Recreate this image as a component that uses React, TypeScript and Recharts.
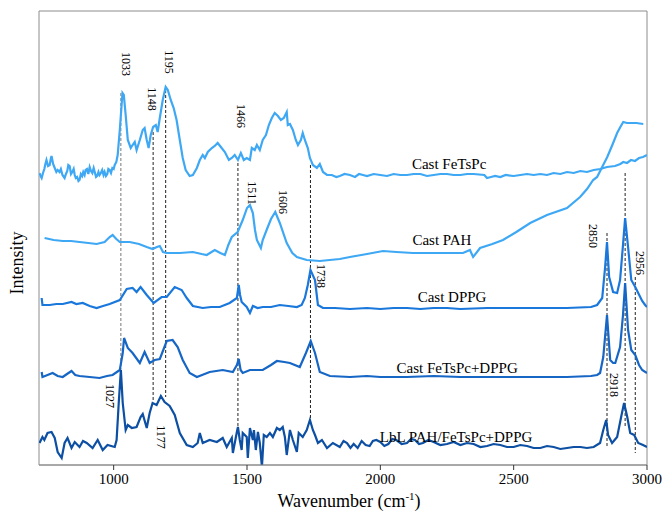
import React from 'react';
import { LineChart, Line, XAxis, YAxis, ReferenceLine, ReferenceDot, ReferenceArea } from 'recharts';

// wavenumber (cm-1), intensity (arbitrary units, stacked offsets)
const castFeTsPc: [number, number][] = [
  [722, 292], [726, 289], [730, 287], [735, 292], [740, 296], [744, 301], [748, 305], [754, 299], [760, 300], [764, 306], [767, 309],
  [773, 301], [779, 297], [785, 293], [790, 295], [797, 293], [802, 296], [808, 290], [816, 287], [821, 291], [826, 294], [830, 300],
  [835, 299], [840, 291], [845, 293], [850, 296], [854, 290], [858, 287], [863, 288], [868, 284], [872, 285], [877, 291], [882, 289],
  [886, 293], [891, 290], [895, 295], [900, 296], [905, 291], [910, 298], [915, 294], [920, 292], [925, 297], [929, 293], [934, 288],
  [938, 289], [943, 293], [947, 290], [952, 292], [957, 295], [962, 290], [966, 293], [971, 289], [976, 291], [980, 296], [985, 295],
  [990, 292], [995, 297], [1000, 296], [1004, 300], [1010, 303], [1015, 310],
  [1023, 335], [1033, 372], [1038, 370], [1045, 350], [1053, 325], [1064, 317], [1071, 320], [1079, 323], [1086, 315], [1098, 325],
  [1109, 335], [1116, 337], [1124, 325], [1131, 317], [1139, 330], [1148, 338], [1158, 340], [1165, 333], [1173, 347], [1184, 365],
  [1195, 378], [1203, 375], [1214, 365], [1225, 357], [1236, 345], [1248, 325], [1259, 307], [1270, 295], [1285, 289], [1297, 290],
  [1312, 297], [1323, 305], [1334, 310], [1342, 307], [1353, 313], [1368, 317], [1379, 319], [1390, 322], [1402, 318], [1417, 313],
  [1432, 305], [1443, 307], [1454, 310], [1466, 305], [1477, 312], [1488, 305], [1499, 307], [1511, 305], [1518, 317], [1529, 315],
  [1537, 320], [1548, 315], [1559, 325], [1571, 330], [1582, 340], [1593, 347], [1604, 352], [1616, 349], [1627, 345], [1638, 347],
  [1649, 353], [1653, 340], [1661, 341], [1672, 335], [1683, 325], [1691, 320], [1702, 325], [1709, 332], [1717, 325], [1728, 317],
  [1736, 307], [1747, 300], [1762, 297], [1773, 301], [1785, 293], [1800, 290], [1818, 290], [1835, 288], [1848, 289], [1866, 291],
  [1886, 290], [1905, 288], [1920, 291], [1935, 290], [1950, 289], [1975, 291], [2000, 290], [2025, 289], [2050, 291], [2075, 290],
  [2100, 290], [2125, 291], [2150, 291], [2175, 289], [2200, 290], [2225, 291], [2250, 291], [2275, 290], [2300, 290], [2325, 291],
  [2350, 291], [2390, 290], [2400, 287], [2415, 288], [2430, 289], [2450, 288], [2470, 290], [2500, 289], [2525, 290], [2550, 291],
  [2575, 290], [2600, 291], [2625, 290], [2650, 292], [2675, 291], [2700, 293], [2725, 292], [2750, 294], [2775, 293], [2800, 295],
  [2825, 296], [2850, 298], [2880, 299], [2900, 301], [2911, 303], [2925, 302], [2940, 305], [2955, 304], [2970, 307], [2985, 308],
  [3000, 310],
];

const castPAH: [number, number][] = [
  [741, 227], [775, 225], [809, 224], [840, 224], [872, 223], [905, 222], [936, 221], [966, 223], [985, 228], [996, 230], [1010, 226],
  [1023, 223], [1060, 223], [1095, 221], [1124, 218], [1146, 216], [1162, 218], [1173, 219], [1185, 213], [1199, 212], [1248, 212],
  [1297, 213], [1330, 211], [1349, 210], [1379, 215], [1400, 212], [1417, 210], [1430, 220], [1443, 228], [1465, 233], [1484, 245],
  [1500, 257], [1511, 260], [1522, 252], [1530, 235], [1537, 225], [1552, 217], [1559, 225], [1575, 236], [1590, 246], [1606, 253],
  [1623, 242], [1649, 222], [1670, 212], [1687, 208], [1724, 205], [1773, 204], [1848, 206], [1886, 208], [1950, 211], [2010, 214],
  [2060, 213], [2122, 212], [2200, 212], [2310, 212], [2336, 215], [2348, 208], [2374, 217], [2420, 221], [2460, 225], [2510, 233],
  [2562, 242], [2625, 250], [2700, 257], [2749, 268], [2775, 276], [2798, 285], [2813, 288], [2830, 297], [2851, 308], [2870, 320],
  [2888, 332], [2900, 338], [2911, 343], [2925, 342], [2937, 342], [2960, 342], [2986, 341],
];

const castDPPG: [number, number][] = [
  [730, 167], [733, 160], [760, 160], [785, 161], [809, 161], [842, 163], [860, 161], [884, 162], [910, 159], [936, 157], [960, 159],
  [985, 161], [1023, 165], [1049, 176], [1071, 177], [1086, 173], [1101, 178], [1124, 170], [1150, 162], [1180, 168], [1199, 168],
  [1229, 178], [1255, 175], [1274, 167], [1297, 159], [1334, 157], [1365, 158], [1398, 158], [1435, 162], [1462, 167], [1469, 180],
  [1474, 170], [1480, 163], [1499, 158], [1511, 152], [1522, 159], [1540, 157], [1559, 158], [1590, 158], [1623, 160], [1655, 159],
  [1687, 158], [1705, 160], [1717, 167], [1728, 180], [1738, 195], [1755, 185], [1766, 160], [1785, 157], [1830, 157], [1886, 156],
  [1950, 157], [2000, 156], [2050, 157], [2100, 157], [2150, 156], [2200, 157], [2250, 157], [2300, 156], [2400, 157], [2500, 157],
  [2600, 157], [2700, 157], [2790, 158], [2813, 160], [2832, 167], [2843, 198], [2850, 223], [2858, 188], [2873, 173], [2888, 172],
  [2899, 185], [2910, 220], [2918, 247], [2929, 218], [2941, 185], [2956, 178], [2967, 172], [2982, 164], [2993, 160], [3000, 158],
];

const castFeTsPcDPPG: [number, number][] = [
  [730, 93], [733, 88], [752, 90], [771, 92], [790, 89], [809, 88], [825, 91], [842, 94], [856, 90], [872, 89], [910, 88], [947, 87],
  [975, 89], [996, 90], [1023, 95], [1034, 112], [1039, 127], [1053, 117], [1071, 112], [1098, 102], [1116, 113], [1135, 102],
  [1154, 105], [1173, 106], [1199, 124], [1221, 125], [1240, 118], [1259, 105], [1285, 92], [1312, 88], [1360, 93], [1409, 95],
  [1447, 93], [1462, 100], [1469, 106], [1476, 95], [1484, 92], [1511, 95], [1559, 95], [1590, 100], [1612, 104], [1640, 103],
  [1661, 102], [1698, 98], [1721, 112], [1739, 124], [1755, 112], [1773, 93], [1811, 89], [1886, 88], [1950, 89], [2000, 88],
  [2100, 88], [2200, 89], [2300, 88], [2400, 88], [2500, 88], [2600, 88], [2700, 88], [2790, 89], [2813, 90], [2824, 92],
  [2836, 108], [2850, 150], [2862, 105], [2873, 102], [2881, 102], [2899, 118], [2910, 150], [2918, 182], [2929, 135], [2941, 115],
  [2956, 110], [2970, 100], [2982, 95], [3000, 92],
];

const lblPAHFeTsPcDPPG: [number, number][] = [
  [722, 22], [733, 28], [740, 25], [752, 32], [767, 33], [779, 27], [790, 13], [805, 7], [816, 22], [827, 27], [842, 17], [854, 23],
  [872, 18], [885, 24], [899, 22], [921, 17], [940, 25], [959, 15], [977, 20], [1004, 18], [1011, 25], [1019, 62], [1027, 95],
  [1034, 62], [1045, 35], [1053, 40], [1068, 37], [1086, 38], [1101, 48], [1109, 51], [1124, 37], [1135, 52], [1146, 62], [1161, 60],
  [1177, 69], [1191, 63], [1210, 59], [1229, 50], [1248, 32], [1274, 20], [1297, 18], [1315, 22], [1323, 32], [1334, 22], [1360, 25],
  [1387, 23], [1409, 27], [1424, 18], [1443, 27], [1447, 12], [1462, 33], [1466, 38], [1473, 25], [1480, 15], [1484, 32], [1499, 28],
  [1503, 7], [1511, 37], [1522, 25], [1526, 35], [1533, 15], [1541, 33], [1548, 22], [1556, -2], [1563, 30], [1574, 28], [1586, 32],
  [1597, 28], [1612, 37], [1623, 35], [1634, 38], [1642, 28], [1649, 10], [1661, 35], [1672, 25], [1687, 13], [1694, 32], [1709, 28],
  [1724, 35], [1736, 45], [1747, 35], [1755, 30], [1766, 22], [1781, 25], [1800, 17], [1822, 22], [1848, 18], [1862, 24], [1875, 22],
  [1888, 17], [1900, 21], [1915, 17], [1930, 24], [1945, 20], [1960, 19], [1972, 24], [1985, 25], [2000, 23], [2015, 19], [2030, 21],
  [2045, 26], [2060, 25], [2080, 21], [2100, 22], [2115, 26], [2130, 25], [2145, 21], [2160, 22], [2180, 25], [2200, 23], [2225, 20],
  [2250, 21], [2275, 23], [2300, 20], [2325, 22], [2350, 21], [2375, 18], [2400, 19], [2425, 21], [2450, 20], [2475, 18], [2500, 18],
  [2525, 20], [2550, 19], [2575, 17], [2600, 17], [2625, 19], [2650, 18], [2675, 16], [2700, 17], [2725, 18], [2750, 18], [2775, 17],
  [2800, 18], [2824, 22], [2836, 35], [2847, 45], [2854, 30], [2869, 22], [2888, 28], [2903, 48], [2914, 62], [2926, 48], [2937, 32],
  [2952, 30], [2967, 22], [2985, 20], [3000, 18],
];

const xTicks = [1000, 1500, 2000, 2500, 3000];

// dashed marker lines: wavenumber, intensity from, intensity to
const markerLines: [number, number, number][] = [
  [1027, 372, 95], [1148, 333, 63], [1195, 375, 68], [1466, 302, 38], [1738, 300, 43],
  [2850, 232, 17], [2918, 292, 38], [2956, 188, 12],
];

// peak labels: text, wavenumber, intensity
const peakLabels: [string, number, number][] = [
  ['1033', 1045, 401], ['1148', 1143, 366], ['1195', 1206, 403], ['1466', 1477, 349], ['1511', 1518, 272],
  ['1606', 1634, 263], ['1738', 1777, 189], ['2850', 2798, 229], ['2956', 2975, 202], ['2918', 2877, 80],
  ['1027', 985, 69], ['1177', 1176, 28],
];

const seriesLabels: [string, number, number][] = [
  ['Cast FeTsPc', 2258, 301], ['Cast PAH', 2231, 225], ['Cast DPPG', 2269, 168],
  ['Cast FeTsPc+DPPG', 2288, 97], ['LbL PAH/FeTsPc+DPPG', 2284, 28],
];

const FONT = '"Liberation Serif", "Times New Roman", serif';

const toPts = (arr: [number, number][]) => arr.map(([w, i]) => ({ w, i }));

const series = [
  { name: 'Cast FeTsPc', data: castFeTsPc, color: '#3ea8f4' },
  { name: 'Cast PAH', data: castPAH, color: '#3ea8f4' },
  { name: 'Cast DPPG', data: castDPPG, color: '#1a78dc' },
  { name: 'Cast FeTsPc+DPPG', data: castFeTsPcDPPG, color: '#1666c6' },
  { name: 'LbL PAH/FeTsPc+DPPG', data: lblPAHFeTsPcDPPG, color: '#0c4fa3' },
];

export default function App() {
  return (
    <div style={{ position: 'absolute', left: 0, top: 0, fontFamily: FONT }}>
      <LineChart width={663} height={513} margin={{ top: 11, right: 16, bottom: 0, left: 0 }} style={{ fontFamily: FONT }}>
        <XAxis
          dataKey="w"
          type="number"
          domain={[720, 3000]}
          ticks={xTicks}
          allowDataOverflow
          height={48}
          tickSize={5}
          tickMargin={3}
          axisLine={{ stroke: '#8c8c8c' }}
          tickLine={{ stroke: '#333' }}
          tick={{ fill: '#000', fontSize: 15, fontFamily: FONT }}
          label={{
            content: (props: any) => {
              const vb = props.viewBox || { x: 39, y: 465, width: 608 };
              const cx = vb.x + vb.width / 2 + 6;
              return (
                <text x={cx} y={507} textAnchor="middle" fontFamily={FONT} fontSize={18} fill="#000">
                  Wavenumber (cm
                  <tspan fontSize={11} dy={-7}>-1</tspan>
                  <tspan dy={7}>)</tspan>
                </text>
              );
            },
          }}
        />
        <YAxis
          type="number"
          domain={[0, 454]}
          allowDataOverflow
          width={39}
          tick={false}
          tickLine={false}
          axisLine={false}
          label={{
            content: (props: any) => {
              const vb = props.viewBox || { x: 0, y: 11, width: 39, height: 454 };
              const x = vb.x + 17;
              const y = vb.y + 252;
              return (
                <text x={x} y={y} transform={`rotate(-90 ${x} ${y})`} textAnchor="middle" dominantBaseline="central" fontFamily={FONT} fontSize={18} fill="#000">
                  Intensity
                </text>
              );
            },
          }}
        />
        <ReferenceArea x1={720} x2={3000} y1={0} y2={454} fill="none" stroke="#8c8c8c" strokeWidth={1} ifOverflow="visible" />
        {markerLines.map(([w, a, b], k) => (
          <ReferenceLine
            key={'ml' + k}
            segment={[{ x: w, y: a }, { x: w, y: b }]}
            stroke={k === 0 ? '#777' : '#222'}
            strokeDasharray="3 2"
            strokeWidth={1}
          />
        ))}
        {series.map((s) => (
          <Line
            key={s.name}
            data={toPts(s.data)}
            dataKey="i"
            type="linear"
            stroke={s.color}
            strokeWidth={2.2}
            dot={false}
            isAnimationActive={false}
          />
        ))}
        {peakLabels.map(([t, w, i]) => (
          <ReferenceDot
            key={'pl' + t}
            x={w}
            y={i}
            r={1}
            ifOverflow="visible"
            shape={(p: any) => (
              <text x={p.cx} y={p.cy} transform={`rotate(90 ${p.cx} ${p.cy})`} textAnchor="middle" dominantBaseline="central" fontFamily={FONT} fontSize={12} fill="#000">
                {t}
              </text>
            )}
          />
        ))}
        {seriesLabels.map(([t, w, i]) => (
          <ReferenceDot
            key={'sl' + t}
            x={w}
            y={i}
            r={1}
            ifOverflow="visible"
            shape={(p: any) => (
              <text x={p.cx} y={p.cy} textAnchor="middle" dominantBaseline="central" fontFamily={FONT} fontSize={15} fill="#000">
                {t}
              </text>
            )}
          />
        ))}
      </LineChart>
    </div>
  );
}
